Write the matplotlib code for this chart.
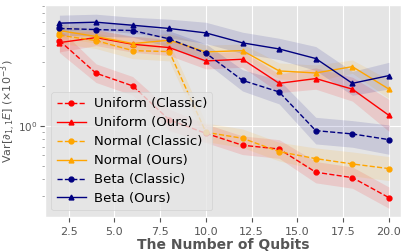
import matplotlib.pyplot as plt
import numpy as np

plt.style.use('ggplot')

qubits = [2, 4, 6, 8, 10, 12, 14, 16, 18, 20]

# средние значения дисперсии
uniform_classic = [4.38, 2.49, 2.00, 1.11, 0.88, 0.716, 0.671, 0.449, 0.409, 0.289]
uniform_ours = [4.23, 4.61, 4.11, 3.88, 3.08, 3.17, 2.09, 2.27, 1.89, 1.20]
normal_classic = [4.81, 4.38, 3.68, 3.62, 0.896, 0.808, 0.641, 0.568, 0.518, 0.478]
normal_ours = [5.21, 4.70, 4.16, 4.41, 3.60, 3.68, 2.59, 2.50, 2.79, 1.89]
beta_classic = [5.40, 5.30, 5.21, 4.51, 3.52, 2.20, 1.80, 0.922, 0.871, 0.789]
beta_ours = [5.92, 6.02, 5.71, 5.40, 5.00, 4.21, 3.79, 3.21, 2.09, 2.39]

# ширина полосы (в декадах, log10)
uniform_classic_sd = [0.09, 0.07, 0.07, 0.08, 0.07, 0.07, 0.07, 0.08, 0.08, 0.08]
uniform_ours_sd = [0.07, 0.06, 0.06, 0.06, 0.06, 0.06, 0.07, 0.08, 0.09, 0.12]
normal_classic_sd = [0.06, 0.06, 0.06, 0.07, 0.07, 0.07, 0.07, 0.08, 0.09, 0.09]
normal_ours_sd = [0.05, 0.05, 0.05, 0.05, 0.05, 0.05, 0.06, 0.06, 0.05, 0.07]
beta_classic_sd = [0.05, 0.05, 0.05, 0.06, 0.07, 0.08, 0.09, 0.10, 0.10, 0.11]
beta_ours_sd = [0.06, 0.06, 0.06, 0.07, 0.08, 0.08, 0.08, 0.09, 0.09, 0.10]

series = [
    ('Uniform (Classic)', uniform_classic, uniform_classic_sd, 'red', '--', 'o'),
    ('Uniform (Ours)', uniform_ours, uniform_ours_sd, 'red', '-', '^'),
    ('Normal (Classic)', normal_classic, normal_classic_sd, 'orange', '--', 'o'),
    ('Normal (Ours)', normal_ours, normal_ours_sd, 'orange', '-', '^'),
    ('Beta (Classic)', beta_classic, beta_classic_sd, 'navy', '--', 'o'),
    ('Beta (Ours)', beta_ours, beta_ours_sd, 'navy', '-', '^'),
]

fig = plt.figure(figsize=(4.07, 2.52), dpi=100)
ax = fig.add_axes([0.11, 0.139, 0.875, 0.841])

for label, vals, sd, color, ls, marker in series:
    vals = np.array(vals)
    sd = np.array(sd)
    ax.fill_between(qubits, vals / 10 ** sd, vals * 10 ** sd, color=color, alpha=0.12, lw=0)
    ax.plot(qubits, vals, color=color, ls=ls, marker=marker, markersize=3.5, lw=1, label=label)

ax.set_yscale('log')
ax.set_ylim(0.207, 8.1)
ax.set_xlim(1.2, 20.65)
ax.yaxis.set_minor_formatter(plt.NullFormatter())
ax.grid(False, which='minor')
ax.tick_params(labelsize=8, colors='#555555')
ax.tick_params(axis='y', labelsize=7.5, pad=2)
ax.tick_params(axis='y', which='minor', length=2, colors='#999999')

ax.set_xlabel('The Number of Qubits', fontsize=10, fontweight='bold', color='#555555', labelpad=1)
ax.set_ylabel(r'Var[$\partial_{1,1}E$] ($\times 10^{-3}$)', fontsize=8, color='#555555')
ax.yaxis.set_label_coords(-0.074, 0.5)

ax.legend(loc='lower left', fontsize=9.5, framealpha=0.8, handlelength=2.2,
          borderpad=0.4, labelspacing=0.45, handletextpad=0.6)

plt.savefig('out.png', dpi=100)
